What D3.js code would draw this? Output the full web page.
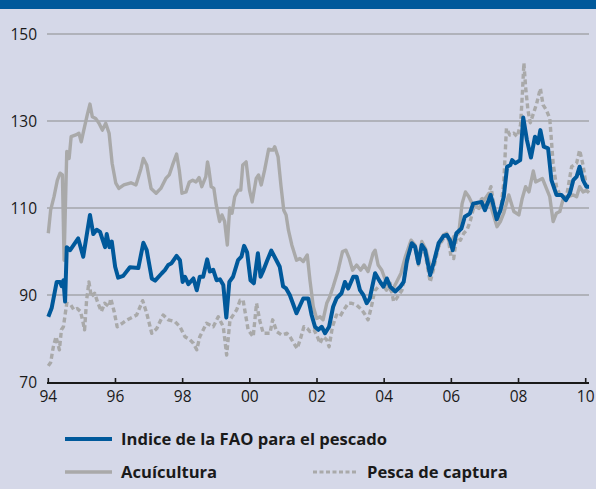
<!DOCTYPE html>
<html>
<head>
<meta charset="utf-8">
<script src="https://cdn.jsdelivr.net/npm/d3@7"></script>
<style>
  body { margin: 0; background: #d5d8e8; }
  svg { display: block; }
  text { font-family: "Open Sans", "Noto Sans", sans-serif; fill: #1a1a1a; }
</style>
</head>
<body>
<div id="content"></div>
<script>
// years counted from Jan 1994 (0 = 1994, 16 = 2010)
var yTicks = [70, 90, 110, 130, 150];
var xTicks = [0, 2, 4, 6, 8, 10, 12, 14, 16];
var xTickLabels = ["94", "96", "98", "00", "02", "04", "06", "08", "10"];
var legendLabels = ["Indice de la FAO para el pescado", "Acuícultura", "Pesca de captura"];

// Indice de la FAO para el pescado
var fishT = [0,0.10,0.25,0.35,0.40,0.45,0.50,0.55,0.65,0.89,1.04,1.24,1.34,1.44,1.54,1.69,1.74,1.82,1.89,1.99,
  2.08,2.23,2.43,2.68,2.83,2.93,3.08,3.18,3.38,3.47,3.57,3.67,3.82,3.92,4.00,4.07,4.17,4.32,4.42,4.51,
  4.61,4.73,4.81,4.91,5.01,5.11,5.21,5.30,5.39,5.50,5.65,5.75,5.83,5.92,6.02,6.12,6.24,6.32,6.39,6.52,
  6.64,6.79,6.89,6.99,7.08,7.19,7.39,7.59,7.74,7.84,7.94,8.04,8.14,8.24,8.36,8.48,8.58,8.73,8.83,8.93,
  9.08,9.18,9.28,9.38,9.48,9.57,9.73,9.88,9.98,10.08,10.18,10.33,10.48,10.58,10.68,10.82,10.92,11.02,11.12,11.22,
  11.37,11.47,11.62,11.77,11.87,11.96,12.04,12.15,12.30,12.40,12.55,12.65,12.90,13.00,13.17,13.24,13.35,13.46,13.56,13.66,
  13.76,13.81,13.91,14.05,14.14,14.25,14.37,14.49,14.58,14.65,14.75,14.88,14.98,15.13,15.28,15.41,15.53,15.63,15.73,15.82,
  15.92,16.02,16.10];
var fishV = [85,87,93,93,92,93.4,88.5,101,100.3,103,98.8,108.4,104,105,104.5,101,104,101,102.3,96.5,
  94,94.4,96.4,96.2,102,100.3,93.8,93.3,95,95.7,96.9,97.3,99,98,93,94.2,92.5,93.8,91.1,94.2,
  94.2,98.2,95.4,95.8,93.4,93.6,92.3,84.8,93,94.2,98,98.8,101.3,99.8,93.4,92.7,99.6,94.2,95.4,98,
  100.2,98,96.5,92,91.5,90,85.8,89.2,89.2,85.4,82.7,82,82.7,81.2,82.7,87.3,89.2,90.4,93,91.5,
  94.2,94.2,91.1,90,88.1,89.2,95,93,91.9,93.8,91.9,90.8,91.9,93,98,101.9,101.1,97.3,101.5,100.3,
  94.6,97.3,101.9,103.6,103.8,102.6,100.3,104.2,105.3,108,108.7,111,111.4,109.5,113,111,107.4,109.5,112.6,119.5,
  119.9,121,120.3,121,130.8,125.6,121.6,126.4,124.9,127.9,124.1,123.7,116.4,113,113,111.8,113.4,116.4,117.2,119.5,
  116.4,114.9,114.9];

// Acuícultura
var aquaT = [0,0.07,0.17,0.27,0.35,0.42,0.47,0.55,0.62,0.68,0.82,0.91,0.98,1.06,1.16,1.24,1.31,1.41,1.51,1.61,
  1.71,1.81,1.90,2.01,2.10,2.25,2.46,2.61,2.76,2.83,2.93,3.06,3.21,3.35,3.50,3.60,3.70,3.82,3.90,3.98,
  4.10,4.20,4.30,4.40,4.49,4.57,4.69,4.74,4.78,4.85,4.93,5.00,5.10,5.17,5.25,5.33,5.40,5.47,5.55,5.65,
  5.73,5.79,5.89,5.99,6.07,6.19,6.26,6.34,6.44,6.56,6.69,6.74,6.84,6.93,7.01,7.08,7.15,7.25,7.39,7.49,
  7.59,7.71,7.79,7.89,7.99,8.09,8.18,8.29,8.38,8.48,8.63,8.76,8.86,8.96,9.06,9.18,9.30,9.40,9.52,9.67,
  9.73,9.82,9.93,10.07,10.22,10.37,10.50,10.63,10.80,10.92,11.02,11.12,11.24,11.40,11.56,11.76,11.86,11.96,12.07,12.22,
  12.32,12.42,12.52,12.62,12.82,12.97,13.12,13.21,13.36,13.46,13.56,13.71,13.86,14.01,14.11,14.21,14.31,14.44,14.51,14.61,
  14.71,14.83,14.93,15.03,15.13,15.23,15.32,15.48,15.63,15.73,15.82,15.92,16.02,16.10];
var aquaV = [104.2,109.5,112.6,116.4,118,117.6,98,123,121.4,126.4,126.8,127.2,125.2,128,131.4,133.9,131,130.6,129.5,127.9,
  129.5,127.2,120.3,115.7,114.5,115.3,115.8,115.3,119.1,121.4,119.9,114.5,113.4,114.5,116.8,117.6,119.9,122.4,118.7,113.4,
  113.7,116,116.4,116,117,114.9,117.2,120.6,119,114.9,114.5,110.7,106.9,108.4,106.9,101.5,110,108.8,112.6,114.1,
  114.1,119.9,120.6,114.1,111.4,116.8,117.6,115.3,118.7,123.5,123.3,124.1,121.8,114.9,109.5,108.4,104.9,101.5,98,98.4,
  97.7,99.2,93.4,87.3,84.6,85,84.3,88.1,89.6,91.9,95.7,100,100.3,98.4,95.7,96.9,95.7,96.9,95.4,99.6,
  100.3,96.9,95.7,92.7,90.8,93,95,98.8,102.6,101.5,98,102.3,100.5,95.7,100,103.8,104.2,101.5,103.4,104.2,
  111,113.7,112.6,111,109.9,111.8,113.4,109.5,105.7,106.9,108.8,113,109.2,108.4,112.2,114.9,113.7,118.5,116,116.4,
  116.8,114.5,112.6,106.9,108.8,109.2,111.8,112.6,113,112.6,114.9,113.7,114.1,113.5];

// Pesca de captura
var wildT = [0,0.07,0.15,0.23,0.33,0.39,0.45,0.55,0.67,0.76,0.86,0.96,1.04,1.08,1.14,1.21,1.28,1.38,1.48,1.58,
  1.68,1.81,1.86,1.96,2.05,2.20,2.35,2.43,2.63,2.81,2.93,3.08,3.23,3.42,3.57,3.77,3.92,4.07,4.22,4.32,
  4.42,4.51,4.71,4.91,5.06,5.21,5.31,5.41,5.61,5.71,5.80,5.95,6.10,6.20,6.30,6.40,6.60,6.68,6.80,6.95,
  7.10,7.19,7.31,7.41,7.51,7.61,7.71,7.79,7.91,7.99,8.09,8.18,8.29,8.36,8.46,8.58,8.68,8.80,8.93,9.03,
  9.18,9.33,9.43,9.52,9.62,9.72,9.92,10.07,10.18,10.28,10.35,10.53,10.68,10.80,10.92,11.02,11.12,11.22,11.37,11.47,
  11.62,11.77,11.90,11.99,12.07,12.17,12.27,12.37,12.47,12.57,12.67,12.82,12.92,13.02,13.12,13.18,13.26,13.36,13.46,13.56,
  13.64,13.74,13.86,13.96,14.06,14.11,14.16,14.21,14.28,14.35,14.46,14.54,14.65,14.73,14.83,14.93,15.03,15.13,15.23,15.32,
  15.43,15.58,15.73,15.82,15.92,16.02,16.10];
var wildV = [73.7,74.5,78.1,80.4,77.4,82,82.7,88.1,87.7,86.6,86.9,86.2,83.5,82,88.8,93,89.6,90.4,88.1,86.2,
  88.1,87.3,89.2,86.2,82.7,83.5,84.3,84.6,85.4,88.7,85.8,81.2,82.3,85.4,84.3,83.9,82.7,80.4,79.7,78.9,
  77.4,80.4,83.5,82.7,85,82.7,76.2,84.3,86.6,88.8,88.8,82,80.4,88.1,84,81.2,81.2,84.3,81.6,80.8,
  81.2,80.5,78.9,77.7,80,82.7,82.3,81.6,82,80.8,78.9,80.4,79.7,78.1,82.7,85.4,85,86.6,88.1,88.1,
  87.7,86.6,85.5,84.3,87.3,91,92.7,91.1,92.7,88.5,89,91.1,97.3,101.5,100.7,96.9,101.1,99.5,93,96,
  101.1,103,103.4,98.8,98.4,104.2,102.6,104.2,105,107.2,110.3,111.4,112.2,109.9,113.7,114.9,111,106.9,108.8,115.7,
  128.3,126.8,127.2,126.4,129.1,135.6,143.3,137.9,132.5,129.6,132.1,134,137.5,133.7,132.5,130.6,120.3,114.9,113,112.6,
  112.6,119.5,120.3,123.3,119.9,114.9,115];

var W = 596, H = 489;
var svg = d3.select("#content").append("svg")
    .attr("width", W)
    .attr("height", H);

svg.append("rect").attr("width", W).attr("height", H).attr("fill", "#d5d8e8");
svg.append("rect").attr("width", W).attr("height", 9).attr("fill", "#00599b");

var x = d3.scaleLinear().domain([0, 16]).range([48.3, 585.7]);
var y = d3.scaleLinear().domain([70, 150]).range([382, 34]);

// horizontal grid
svg.append("g")
  .selectAll("line")
  .data(yTicks.slice(1))
  .enter().append("line")
    .attr("x1", 47).attr("x2", 589)
    .attr("y1", function(d) { return y(d); })
    .attr("y2", function(d) { return y(d); })
    .attr("stroke", "#8c8c8c")
    .attr("stroke-width", 1.2);

svg.append("g")
  .selectAll("text")
  .data(yTicks)
  .enter().append("text")
    .attr("x", 37)
    .attr("y", function(d) { return y(d) + 5.5; })
    .attr("text-anchor", "end")
    .attr("font-size", 15.5)
    .text(function(d) { return d; });

// x axis
var xAxis = svg.append("g");
xAxis.append("line")
  .attr("x1", 47).attr("x2", 589)
  .attr("y1", y(70) + 1).attr("y2", y(70) + 1)
  .attr("stroke", "#1a1a1a").attr("stroke-width", 2.2);
xAxis.selectAll(".tick")
  .data(xTicks)
  .enter().append("line")
    .attr("x1", function(d) { return x(d); })
    .attr("x2", function(d) { return x(d); })
    .attr("y1", y(70) - 4).attr("y2", y(70))
    .attr("stroke", "#1a1a1a").attr("stroke-width", 1.6);
xAxis.selectAll("text")
  .data(xTicks)
  .enter().append("text")
    .attr("x", function(d) { return x(d); })
    .attr("y", 402)
    .attr("text-anchor", "middle")
    .attr("font-size", 15.5)
    .text(function(d, i) { return xTickLabels[i]; });

function zip(t, v) { return t.map(function(d, i) { return {t: d, v: v[i]}; }); }

var line = d3.line()
    .x(function(d) { return x(d.t); })
    .y(function(d) { return y(d.v); });

svg.append("path")
  .datum(zip(aquaT, aquaV))
  .attr("d", line)
  .attr("fill", "none")
  .attr("stroke", "#a9a9a9")
  .attr("stroke-width", 3.4)
  .attr("stroke-linejoin", "round");

svg.append("path")
  .datum(zip(wildT, wildV))
  .attr("d", line)
  .attr("fill", "none")
  .attr("stroke", "#a9a9a9")
  .attr("stroke-width", 3.4)
  .attr("stroke-dasharray", "5,3")
  .attr("stroke-linejoin", "round");

svg.append("path")
  .datum(zip(fishT, fishV))
  .attr("d", line)
  .attr("fill", "none")
  .attr("stroke", "#00599b")
  .attr("stroke-width", 4)
  .attr("stroke-linejoin", "round");

// legend
var legend = [
  {x: 65, y: 439, w: 47, color: "#00599b", dash: null, sw: 4},
  {x: 65, y: 472, w: 47, color: "#a9a9a9", dash: null, sw: 3.4},
  {x: 313, y: 472, w: 45, color: "#a9a9a9", dash: "4,2.5", sw: 3}
];
var lg = svg.append("g").selectAll("g")
  .data(legend)
  .enter().append("g");
lg.append("line")
  .attr("x1", function(d) { return d.x; })
  .attr("x2", function(d) { return d.x + d.w; })
  .attr("y1", function(d) { return d.y; })
  .attr("y2", function(d) { return d.y; })
  .attr("stroke", function(d) { return d.color; })
  .attr("stroke-width", function(d) { return d.sw; })
  .attr("stroke-dasharray", function(d) { return d.dash; });
lg.append("text")
  .attr("x", function(d) { return d.x + d.w + 9; })
  .attr("y", function(d) { return d.y + 6; })
  .attr("font-size", 16.6)
  .attr("font-weight", "bold")
  .text(function(d, i) { return legendLabels[i]; });
</script>
</body>
</html>
